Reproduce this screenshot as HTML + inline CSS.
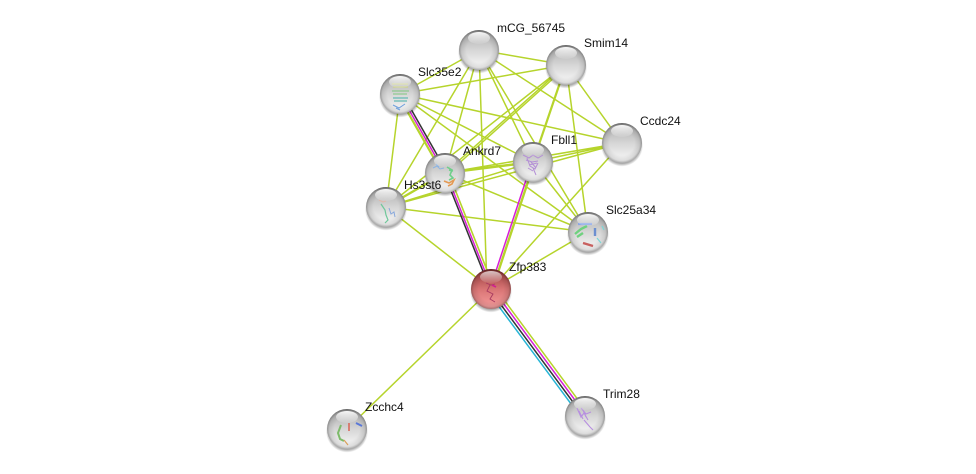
<!DOCTYPE html>
<html><head><meta charset="utf-8"><style>
html,body{margin:0;padding:0;background:#fff}
svg{display:block}
text{font-family:"Liberation Sans",sans-serif;font-size:12px;fill:#111}
.g{stroke:#b6d42c;stroke-width:1.5;fill:none}
</style></head><body>
<svg width="976" height="474" viewBox="0 0 976 474" xmlns="http://www.w3.org/2000/svg">
<defs>
<linearGradient id="s" x1="0" y1="0" x2="0" y2="1">
<stop offset="0" stop-color="#8f8f8f"/><stop offset=".12" stop-color="#b4b4b4"/><stop offset=".5" stop-color="#d6d6d6"/><stop offset=".85" stop-color="#f0f0f0"/><stop offset="1" stop-color="#fafafa"/>
</linearGradient>
<linearGradient id="r" x1="0" y1="0" x2="0" y2="1">
<stop offset="0" stop-color="#7d2c2c"/><stop offset=".14" stop-color="#a84a4a"/><stop offset=".5" stop-color="#d87474"/><stop offset=".85" stop-color="#ef9292"/><stop offset="1" stop-color="#f6a5a5"/>
</linearGradient>
<radialGradient id="e" cx="50%" cy="50%" r="50%">
<stop offset=".62" stop-color="#000" stop-opacity="0"/><stop offset=".88" stop-color="#000" stop-opacity=".1"/><stop offset="1" stop-color="#000" stop-opacity=".32"/>
</radialGradient>
<linearGradient id="h" x1="0" y1="0" x2="0" y2="1">
<stop offset="0" stop-color="#fff" stop-opacity=".95"/><stop offset="1" stop-color="#fff" stop-opacity=".08"/>
</linearGradient>
<radialGradient id="sh" cx="50%" cy="50%" r="50%">
<stop offset=".78" stop-color="#000" stop-opacity=".5"/><stop offset="1" stop-color="#000" stop-opacity="0"/>
</radialGradient>
<g id="ball"><circle cy="2.5" r="21" fill="url(#sh)"/><circle r="20" fill="url(#s)"/><circle r="20" fill="url(#e)"/></g>
<g id="ballr"><circle cy="2.5" r="21" fill="url(#sh)"/><circle r="20" fill="url(#r)"/><circle r="20" fill="url(#e)"/></g>
<ellipse id="hl" cy="-12" rx="11" ry="6" fill="url(#h)"/>
</defs>

<g class="g">
<path d="M479 50L566 65M479 50L400 94M479 50L622 143M479 50L533 162M479 50L445 173M479 50L386 207M479 50L487 289M479 50L588 232"/>
<path d="M566 65L400 94M566 65L622 143M566 65L445 173M566 67L446 175M566 65L386 207M566 65L588 232"/>
<path d="M400 94L622 143M400 94L533 162M400 94L386 207M400 94L588 232"/>
<path d="M622 143L533 162M622 143L445 173M622 143L386 207M622 143L491 289"/>
<path d="M533 162L386 207M533 162L588 232"/>
<path d="M445 173L588 232M386 207L588 232M386 207L491 289M588 232L491 289M491 289L347 429"/>
</g>
<path d="M566 65L533 162" stroke="#b6d42c" stroke-width="2.2"/>
<path d="M533 162L445 173M445 173L386 207" stroke="#b6d42c" stroke-width="2.4"/>

<!-- Slc35e2 - Ankrd7 bundle -->
<path d="M397.4 94L442.4 173" stroke="#b6d42c" stroke-width="2.2"/>
<path d="M400 94L445 173" stroke="#d61ed6" stroke-width="1.5"/>
<path d="M402.4 94L447.4 173" stroke="#333" stroke-width="1.5"/>
<!-- Ankrd7 - Zfp383 bundle -->
<path d="M444 173L490 289" stroke="#333" stroke-width="1.5"/>
<path d="M446 173L492 289" stroke="#d61ed6" stroke-width="1.5"/>
<path d="M448.5 173L494.5 289" stroke="#b6d42c" stroke-width="1.6"/>
<!-- Fbll1 - Zfp383 -->
<path d="M532 162L490 289" stroke="#d61ed6" stroke-width="1.5"/>
<path d="M534.5 162L492.5 289" stroke="#b6d42c" stroke-width="2.4"/>
<!-- Zfp383 - Trim28 -->
<path d="M486 289L580 416" stroke="#27b5d6" stroke-width="1.5"/>
<path d="M489.3 289L583.3 416" stroke="#333" stroke-width="1.5"/>
<path d="M492.7 289L586.7 416" stroke="#d61ed6" stroke-width="1.5"/>
<path d="M496 289L590 416" stroke="#b6d42c" stroke-width="1.5"/>

<use href="#ball" x="479" y="50"/><use href="#hl" x="479" y="50"/>
<use href="#ball" x="566" y="65"/><use href="#hl" x="566" y="65"/>
<use href="#ball" x="622" y="143"/><use href="#hl" x="622" y="143"/>

<use href="#ball" x="400" y="94"/>
<g fill="none" stroke-width="1">
<path d="M392 84h16M393 87h15" stroke="#cfd67a"/><path d="M392 91h17M393 94h14" stroke="#7fc77f"/><path d="M393 98h15M394 101h13" stroke="#45b0a8"/><path d="M393 105l6 3 6-4M396 108l4 2" stroke="#6f9fdc"/>
</g>
<use href="#hl" x="400" y="94"/>

<use href="#ball" x="533" y="162"/>
<path d="M523 155l6 3 4-3 5 3 5-3M527 158l3 8 5 3 3-6M531 162l5 6M533 168l3 7M528 168l5 3M526 160l6 2 6-1M529 165l8-2" fill="none" stroke="#b48fd6" stroke-width="1"/>
<use href="#hl" x="533" y="162"/>

<use href="#ball" x="445" y="173"/>
<path d="M433 168l4-2 3 3 4-1M436 164l3 3" fill="none" stroke="#8db4e2" stroke-width="1"/>
<path d="M447 167l5 3-2 5 3 3-4 2M449 170l4 1" fill="none" stroke="#6fcf8a" stroke-width="1.6"/>
<path d="M444 181l5 2 5-3-2 4-4 2" fill="none" stroke="#e49a55" stroke-width="1.6"/>
<use href="#hl" x="445" y="173"/>

<use href="#ball" x="386" y="207"/>
<path d="M379 200l4 2 3-1" fill="none" stroke="#e3b7a8" stroke-width="1"/>
<path d="M381 204l4 6 1 5 2 5-3 3" fill="none" stroke="#6fc79a" stroke-width="1.2"/>
<path d="M389 208l2 6 3-2 1 5" fill="none" stroke="#88a8dc" stroke-width="1"/>
<use href="#hl" x="386" y="207"/>

<use href="#ball" x="588" y="232"/>
<path d="M578 224h14" stroke="#8aa5e6" stroke-width="2.2" fill="none"/>
<path d="M575 234l6-5 6-3M577 237l6-4" stroke="#6fd17f" stroke-width="2.4" fill="none"/>
<path d="M583 243l10 3" stroke="#c8605f" stroke-width="2.4" fill="none"/>
<path d="M595 228v8" stroke="#6c8fd0" stroke-width="2.4" fill="none"/>
<path d="M602 226l2 4M597 238l4 5" stroke="#7ad6d6" stroke-width="1.2" fill="none"/>
<use href="#hl" x="588" y="232"/>

<use href="#ball" x="585" y="416"/>
<path d="M577 408l4 9 3-4 4 7M581 408l5 6 5-2M584 420l6 7 3 3M579 411l4 8M583 410l3 7" fill="none" stroke="#b78fe0" stroke-width="1.1"/>
<use href="#hl" x="585" y="416"/>

<use href="#ball" x="347" y="429"/>
<path d="M341 425l-3 8 2 6 4 2" fill="none" stroke="#7dbb6a" stroke-width="2"/>
<path d="M349 423v8" stroke="#d9695c" stroke-width="1.6" fill="none"/>
<path d="M356 423l6 3" stroke="#5a78d8" stroke-width="2" fill="none"/>
<path d="M344 440l4 5" stroke="#d9a05c" stroke-width="1.2" fill="none"/>
<use href="#hl" x="347" y="429"/>

<use href="#ballr" x="491" y="289"/>
<path d="M486 283l5 2 4-1M490 285l-3 6 6 3-3 5 5 3" fill="none" stroke="#a83a60" stroke-width=".9"/>
<path d="M492 285l4 2" stroke="#d02090" stroke-width="1.6" fill="none"/>
<ellipse cx="491" cy="277" rx="11" ry="6" fill="url(#h)" opacity=".75"/>

<text x="497" y="32">mCG_56745</text>
<text x="584" y="47">Smim14</text>
<text x="418" y="76">Slc35e2</text>
<text x="640" y="125">Ccdc24</text>
<text x="551" y="144">Fbll1</text>
<text x="463" y="155">Ankrd7</text>
<text x="404" y="189">Hs3st6</text>
<text x="606" y="214">Slc25a34</text>
<text x="509" y="271">Zfp383</text>
<text x="603" y="398">Trim28</text>
<text x="365" y="411">Zcchc4</text>
</svg>
</body></html>
